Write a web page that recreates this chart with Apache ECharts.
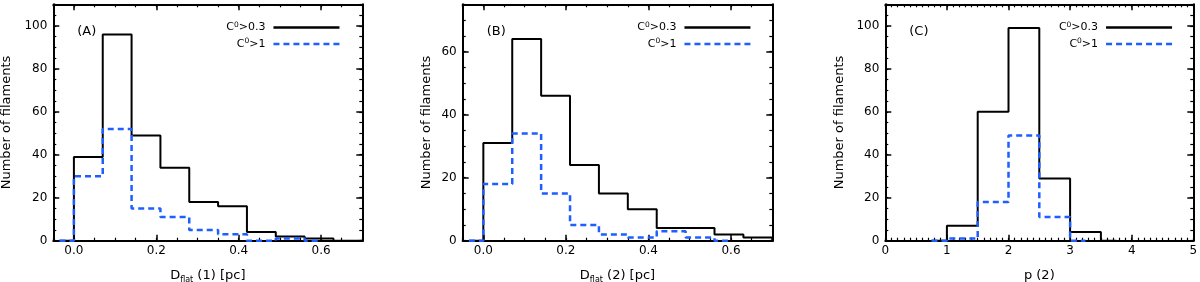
<!DOCTYPE html>
<html>
<head>
<meta charset="utf-8">
<script src="https://cdn.jsdelivr.net/npm/echarts@6/dist/echarts.min.js"></script>
<style>
html,body{margin:0;padding:0;background:#fff;}
#chart{width:1200px;height:282px;}
</style>
</head>
<body>
<div id="chart"></div>
<script>
// ---- data ----
const seriesNames = ['C0>0.3', 'C0>1'];
const panelLabels = ['(A)', '(B)', '(C)'];

// Panel A: D_flat (1) histogram, bin width 0.07, first bin centre -0.035
const aBinWidth = 0.07;
const aFirstCenter = -0.035;
const aBlack = [0, 39, 96, 49, 34, 18, 16, 4, 2, 1, 0, 0];
const aBlue  = [0, 30, 52, 15, 11, 5, 3, 0, 1, 0];

// Panel B: D_flat (2) histogram
const bBinWidth = 0.07;
const bFirstCenter = -0.035;
const bBlack = [0, 31, 64, 46, 24, 15, 10, 4, 4, 2, 1, 0];
const bBlue  = [0, 18, 34, 15, 5, 2, 1, 3, 1, 0];

// Panel C: p (2) histogram, bin width 0.5, first bin centre 0.75
const cBinWidth = 0.5;
const cFirstCenter = 0.75;
const cBlack = [0, 7, 60, 99, 29, 4, 0];
const cBlue  = [0, 1, 18, 49, 11, 0];

// tick labels
const xTicksAB = [0, 0.2, 0.4, 0.6];
const xTicksC  = [0, 1, 2, 3, 4, 5];
const yTicksAC = [0, 20, 40, 60, 80, 100];
const yTicksB  = [0, 20, 40, 60];

// ---- layout / style ----
const FONT = 'DejaVu Sans';
const BLACK = '#000000';
const BLUE = '#1f5fff';
const gridTop = 4.3, gridHeight = 236.4;
const panels = [
  {left: 53.3, width: 309, xMin: -0.05, xMax: 0.7, xMinor: 0.05, xTicks: xTicksAB, xFmt: v => v.toFixed(1),
   yMax: 110, yTicks: yTicksAC, yNameGap: 40,
   xName: '{n|D}{s|flat}{n| (1) [pc]}', black: aBlack, blue: aBlue, w: aBinWidth, c0: aFirstCenter, legendRight: 859.3},
  {left: 462.7, width: 309.6, xMin: -0.05, xMax: 0.7, xMinor: 0.05, xTicks: xTicksAB, xFmt: v => v.toFixed(1),
   yMax: 75, yTicks: yTicksB, yNameGap: 29.5,
   xName: '{n|D}{s|flat}{n| (2) [pc]}', black: bBlack, blue: bBlue, w: bBinWidth, c0: bFirstCenter, legendRight: 448.3},
  {left: 885.3, width: 308, xMin: 0, xMax: 5, xMinor: 0.1, xTicks: xTicksC, xFmt: v => String(Math.round(v)),
   yMax: 110, yTicks: yTicksAC, yNameGap: 39,
   xName: '{n|p (2)}', black: cBlack, blue: cBlue, w: cBinWidth, c0: cFirstCenter, legendRight: 26.7}
];

function toSteps(values, c0, w) {
  return values.map((v, i) => [c0 + i * w, v]);
}

const grids = [], xAxes = [], yAxes = [], series = [], legends = [], graphics = [];
const nameRich = {
  n: {fontFamily: FONT, fontSize: 13, color: BLACK, lineHeight: 16},
  s: {fontFamily: FONT, fontSize: 8, color: BLACK, lineHeight: 9, verticalAlign: 'bottom'}
};

function axisPair(dim, gi, pos, min, max, minorStep, majorTicks, withLabels, fmt) {
  const minor = {
    type: 'value', gridIndex: gi, position: pos, min: min, max: max, interval: minorStep,
    axisLine: {show: true, onZero: false, lineStyle: {color: BLACK, width: 2}},
    axisTick: {show: true, inside: true, length: 3, lineStyle: {color: BLACK, width: 1.2}},
    axisLabel: {show: false}, splitLine: {show: false}, silent: true
  };
  const major = {
    type: 'value', gridIndex: gi, position: pos, min: min, max: max,
    axisLine: {show: false, onZero: false},
    axisTick: {show: true, inside: true, length: 6, customValues: majorTicks, lineStyle: {color: BLACK, width: 1.5}},
    axisLabel: withLabels ? {show: true, customValues: majorTicks, formatter: fmt,
      fontFamily: FONT, fontSize: 12, color: BLACK, margin: dim === 'x' ? 4 : 6} : {show: false},
    splitLine: {show: false}, silent: true
  };
  return [major, minor];
}

panels.forEach((p, gi) => {
  grids.push({left: p.left, top: gridTop, width: p.width, height: gridHeight,
    containLabel: false, outerBoundsMode: 'none'});
  const xBottom = axisPair('x', gi, 'bottom', p.xMin, p.xMax, p.xMinor, p.xTicks, true, p.xFmt);
  xBottom[0].name = p.xName;
  xBottom[0].nameLocation = 'middle';
  xBottom[0].nameGap = 27;
  xBottom[0].nameTextStyle = {rich: nameRich};
  const xTop = axisPair('x', gi, 'top', p.xMin, p.xMax, p.xMinor, p.xTicks, false);
  const yLeft = axisPair('y', gi, 'left', 0, p.yMax, 5, p.yTicks, true, v => String(Math.round(v)));
  yLeft[0].name = 'Number of filaments';
  yLeft[0].nameLocation = 'middle';
  yLeft[0].nameGap = p.yNameGap;
  yLeft[0].nameTextStyle = {fontFamily: FONT, fontSize: 13, color: BLACK};
  const yRight = axisPair('y', gi, 'right', 0, p.yMax, 5, p.yTicks, false);
  const xIndex = xAxes.length;
  xAxes.push(...xBottom, ...xTop);
  const yIndex = yAxes.length;
  yAxes.push(...yLeft, ...yRight);

  series.push({
    name: seriesNames[0], type: 'line', step: 'middle', xAxisIndex: xIndex, yAxisIndex: yIndex,
    symbol: 'none', clip: true, silent: true, animation: false,
    lineStyle: {color: BLACK, width: 2, type: 'solid'}, itemStyle: {color: BLACK},
    data: toSteps(p.black, p.c0, p.w), z: 3
  });
  series.push({
    name: seriesNames[1], type: 'line', step: 'middle', xAxisIndex: xIndex, yAxisIndex: yIndex,
    symbol: 'none', clip: true, silent: true, animation: false,
    lineStyle: {color: BLUE, width: 2.5, type: [6, 4]}, itemStyle: {color: BLUE},
    data: toSteps(p.blue, p.c0, p.w), z: 4
  });

  legends.push({
    data: seriesNames, orient: 'vertical', align: 'right', right: p.legendRight, top: 21,
    itemWidth: 66, itemHeight: 10, itemGap: 4, selectedMode: false, padding: 0,
    itemStyle: {color: 'rgba(0,0,0,0)', borderWidth: 0, opacity: 0},
    lineStyle: {width: 2.5},
    formatter: name => '{n|C}{s|0}{n|' + name.slice(2) + '}{g|}',
    textStyle: {
      rich: {
        n: {fontFamily: FONT, fontSize: 11, color: BLACK, lineHeight: 13},
        s: {fontFamily: FONT, fontSize: 7.5, color: BLACK, lineHeight: 8, verticalAlign: 'top'},
        g: {width: 3, lineHeight: 13}
      }
    }
  });

  graphics.push({
    type: 'text', left: p.left + 24, top: 25,
    style: {text: panelLabels[gi], fontFamily: FONT, fontSize: 13, fill: BLACK}
  });
});

const chart = echarts.init(document.getElementById('chart'), null, {renderer: 'canvas'});
chart.setOption({
  animation: false,
  backgroundColor: '#ffffff',
  grid: grids,
  xAxis: xAxes,
  yAxis: yAxes,
  legend: legends,
  series: series,
  graphic: graphics
});
</script>
</body>
</html>
